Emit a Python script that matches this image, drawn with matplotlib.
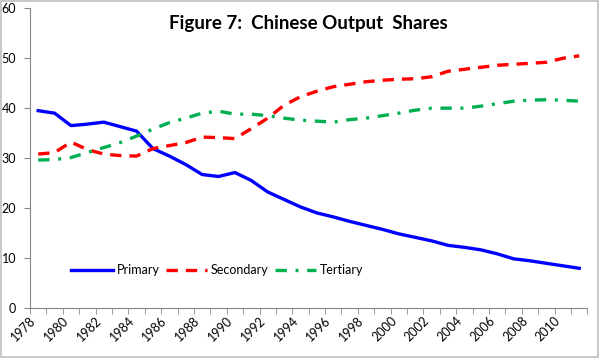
import numpy as np
from matplotlib import pyplot as plt
from matplotlib.patches import Rectangle

plt.rcParams['font.family'] = ['Lato', 'DejaVu Sans']

years = list(range(1978, 2012))
primary = [39.5, 39.0, 36.5, 36.8, 37.2, 36.3, 35.4, 31.9, 30.4, 28.7,
           26.7, 26.3, 27.1, 25.5, 23.2, 21.7, 20.2, 19.0, 18.2, 17.3,
           16.5, 15.7, 14.8, 14.1, 13.4, 12.5, 12.1, 11.6, 10.8, 9.8,
           9.4, 8.9, 8.4, 7.9]
secondary = [30.8, 31.1, 33.2, 31.7, 30.8, 30.5, 30.4, 31.9, 32.5, 33.1,
             34.2, 34.1, 33.9, 35.9, 38.0, 40.6, 42.3, 43.4, 44.3, 44.8,
             45.3, 45.6, 45.8, 45.9, 46.3, 47.4, 47.8, 48.2, 48.6, 48.8,
             49.0, 49.2, 50.0, 50.5]
tertiary = [29.6, 29.7, 30.1, 31.1, 32.1, 33.1, 34.4, 35.8, 37.1, 38.0,
            39.0, 39.4, 38.8, 38.8, 38.5, 38.0, 37.6, 37.4, 37.2, 37.7,
            38.0, 38.5, 39.0, 39.6, 40.0, 40.0, 40.0, 40.4, 40.9, 41.4,
            41.6, 41.7, 41.6, 41.4]

fig = plt.figure(figsize=(6, 3.58), dpi=100)
fig.patches.append(Rectangle((0.001, 0.004), 0.995, 0.993, transform=fig.transFigure,
                             fill=False, edgecolor='#BFBFBF', lw=1.2))
ax = fig.add_axes([0.05, 0.1405, 0.929, 0.836])

x = np.arange(len(years))
lw = 2.4
ax.plot(x, primary, color='#0000FF', lw=lw, label='Primary', solid_joinstyle='round')
ax.plot(x, secondary, color='#FF0000', lw=lw, label='Secondary', dashes=(3.4, 2.4))
ax.plot(x, tertiary, color='#00B050', lw=lw, label='Tertiary', dashes=(3.4, 2.6, 0.9, 2.6))

ax.set_xlim(-0.5, len(years) - 0.5)
ax.set_ylim(0, 60)
ax.set_yticks(range(0, 61, 10))
ax.set_xticks(x[::2])
ax.set_xticklabels([str(y) for y in years[::2]], rotation=45, ha='right', va='top')
ax.set_xticks(np.arange(-0.5, len(years), 1), minor=True)
ax.tick_params(axis='x', which='major', length=0, pad=5, labelsize=9)
ax.tick_params(axis='x', which='minor', length=4, color='#868686', direction='out')
ax.tick_params(axis='y', length=4, color='#868686', direction='out', labelsize=9, pad=6)

for s in ['top', 'right']:
    ax.spines[s].set_visible(False)
for s in ['left', 'bottom']:
    ax.spines[s].set_color('#868686')

ax.text(0.5, 0.951, 'Figure 7:  Chinese Output  Shares', transform=ax.transAxes,
        ha='center', va='center', fontsize=13.5, fontweight='bold')

ax.legend(loc='center', bbox_to_anchor=(0.336, 0.126), ncol=3, frameon=False,
          fontsize=9, handlelength=3.3, columnspacing=0.5, handletextpad=0.3)

plt.savefig('out.png', dpi=100)
